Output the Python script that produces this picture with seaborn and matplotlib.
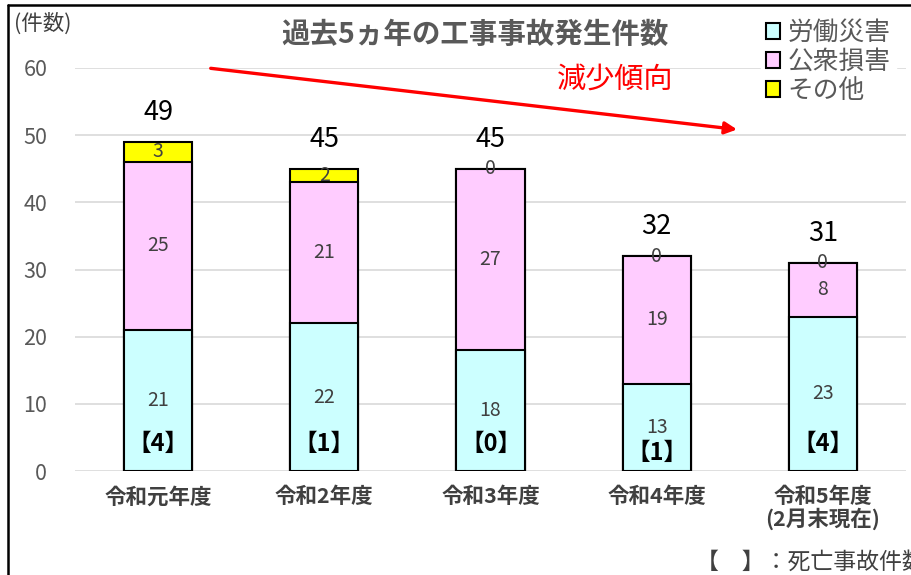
import matplotlib
matplotlib.use('Agg')
import matplotlib.pyplot as plt
import seaborn as sns
import pandas as pd
from matplotlib.patches import Patch
from matplotlib.lines import Line2D

years = ['令和元年度', '令和2年度', '令和3年度', '令和4年度', '令和5年度\n(2月末現在)']
labor = [21, 22, 18, 13, 23]
public = [25, 21, 27, 19, 8]
other = [3, 2, 0, 0, 0]
deaths = [4, 1, 0, 1, 4]
death_label_y = [4.1, 4.1, 4.1, 2.7, 4.1]
series_names = ['労働災害', '公衆損害', 'その他']
colors = ['#CCFFFF', '#FFCCFF', '#FFFF00']

sns.set_theme(style='white')
plt.rcParams['font.family'] = ['Noto Sans CJK JP', 'DejaVu Sans']

df = pd.DataFrame({'year': years, 'labor': labor, 'public': public, 'other': other})
df['lp'] = df['labor'] + df['public']
df['total'] = df['lp'] + df['other']

W, H = 912, 575
fig = plt.figure(figsize=(9.12, 5.75), dpi=100)
ax = fig.add_axes([75 / W, 1 - 471 / H, (906 - 75) / W, 403 / H])

# stacked bars drawn as layered cumulative bars
for col, c in zip(['total', 'lp', 'labor'], colors[::-1]):
    sns.barplot(data=df, x='year', y=col, color=c, edgecolor='black',
                linewidth=1.5, width=0.41, ax=ax, saturation=1)

ax.set_xlim(-0.5, 4.5)
ax.set_ylim(0, 60)
ax.set_yticks(range(0, 61, 10))
ax.yaxis.grid(True, color='#d9d9d9', lw=1.2)
ax.set_axisbelow(True)
for s in ax.spines.values():
    s.set_visible(False)
ax.set_xlabel('')
ax.set_ylabel('')
ax.tick_params(axis='y', length=0, pad=20, labelsize=15.5, labelcolor='#595959')
ax.tick_params(axis='x', length=0, pad=11)
for lbl in ax.get_xticklabels():
    lbl.set_fontweight('bold')
    lbl.set_fontsize(15.5)
    lbl.set_color('#404040')
    lbl.set_linespacing(1.0)

seg_kw = dict(ha='center', va='center', fontsize=14, color='#404040')
for i in range(len(years)):
    ax.text(i, labor[i] / 2, str(labor[i]), **seg_kw)
    ax.text(i, labor[i] + public[i] / 2, str(public[i]), **seg_kw)
    ax.text(i, labor[i] + public[i] + other[i] / 2, str(other[i]), **seg_kw)
    ax.text(i, df['total'][i] + 4.4, str(df['total'][i]), ha='center', va='center',
            fontsize=19.5, color='black')
    ax.text(i, death_label_y[i], f'【{deaths[i]}】', ha='center', va='center',
            fontsize=17, fontweight='bold', color='black')

# trend arrow
ax.annotate('', xy=(3.5, 50.8), xytext=(0.3, 60),
            arrowprops=dict(arrowstyle='-|>', color='#FF0000', lw=2.4, mutation_scale=18),
            annotation_clip=False)
fig.text(615 / W, 1 - 80 / H, '減少傾向', color='#FF0000', fontsize=21,
         ha='center', va='center')

fig.text(475 / W, 1 - 35 / H, '過去5ヵ年の工事事故発生件数', fontsize=20.5,
         fontweight='bold', color='#595959', ha='center', va='center')
fig.text(14 / W, 1 - 24 / H, '(件数)', fontsize=15.5, color='#404040',
         ha='left', va='center')
fig.text(696 / W, 1 - 562 / H, '【　】：死亡事故件数', fontsize=16.5, color='#404040',
         ha='left', va='center')

handles = [Patch(facecolor=c, edgecolor='black', linewidth=1.5) for c in colors]
leg = fig.legend(handles, series_names, loc='upper left',
                 bbox_to_anchor=(748 / W, 1 - 2 / H), fontsize=18.5,
                 handlelength=0.55, handleheight=0.55, handletextpad=0.3,
                 labelspacing=0.12, borderpad=0.2, frameon=True,
                 framealpha=1, edgecolor='white', fancybox=False)
for t in leg.get_texts():
    t.set_color('#595959')

# outer frame (left and top edges visible)
fig.add_artist(Line2D([8 / W, 8 / W], [0, 1 - 5 / H], color='black', lw=1.8))
fig.add_artist(Line2D([8 / W, 1], [1 - 5 / H, 1 - 5 / H], color='black', lw=1.8))

fig.savefig('out.png', dpi=100)
